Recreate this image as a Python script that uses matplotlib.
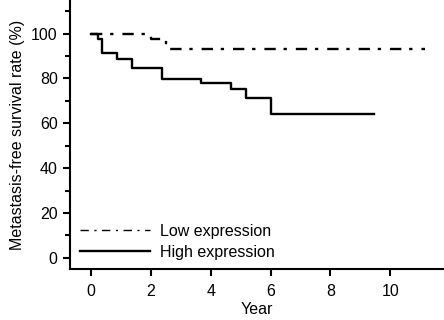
import matplotlib
matplotlib.use("Agg")
import matplotlib.pyplot as plt
from matplotlib.ticker import MultipleLocator

# step curves (year, survival %)
low_years = [0, 2.0, 2.52, 11.15]
low_rate = [100, 97.7, 93.2, 93.2]

high_years = [0, 0.23, 0.36, 0.86, 1.38, 2.36, 3.69, 4.68, 5.17, 6.02, 9.47]
high_rate = [100, 97.8, 91.2, 88.9, 84.5, 79.9, 77.8, 75.5, 71.1, 64.3, 64.3]

x_ticks = [0, 2, 4, 6, 8, 10]
y_ticks = [0, 20, 40, 60, 80, 100]

plt.rcParams["font.family"] = ["Liberation Sans", "DejaVu Sans"]
fs = 11.5

fig = plt.figure(figsize=(4.44, 3.2), dpi=100)
ax = fig.add_axes([0.158, 0.159, 0.842, 0.841])

ax.step(low_years, low_rate, where="post", color="black", lw=1.7,
        linestyle=(0, (4.8, 3.3, 1.4, 3.8)), label="Low expression")
ax.step(high_years, high_rate, where="post", color="black", lw=1.7,
        linestyle="-", label="High expression")

ax.set_xlim(-0.7, 11.8)
ax.set_ylim(-5, 115)
ax.set_xticks(x_ticks)
ax.set_yticks(y_ticks)
ax.yaxis.set_minor_locator(MultipleLocator(10))

for side in ["top", "right"]:
    ax.spines[side].set_visible(False)
for side in ["left", "bottom"]:
    ax.spines[side].set_linewidth(1.5)

ax.tick_params(axis="both", which="major", direction="out", length=5, width=1.5,
               labelsize=fs)
ax.tick_params(axis="x", pad=6)
ax.tick_params(axis="y", pad=4)
ax.tick_params(axis="y", which="minor", direction="out", length=3.5, width=1.5)

ax.set_xlabel("Year", fontsize=fs, labelpad=2)
ax.set_ylabel("Metastasis-free survival rate (%)", fontsize=fs, labelpad=4)

leg = ax.legend(loc="lower left", bbox_to_anchor=(0.0, 0.0), frameon=False, fontsize=fs,
                handlelength=4.4, handletextpad=0.6, labelspacing=0.35, borderaxespad=0.2)
leg.get_lines()[0].set_linewidth(1.0)
leg.get_lines()[0].set_linestyle((0, (6, 4, 1.5, 4)))

fig.savefig("out.png", dpi=100)
